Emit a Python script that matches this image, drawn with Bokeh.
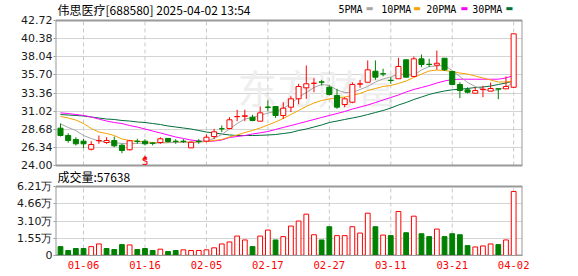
from bokeh.plotting import figure
from bokeh.models import Range1d, FixedTicker, Label, ColumnDataSource
from bokeh.embed import file_html
from bokeh.resources import INLINE
from bokeh.core.properties import value

title_text = "伟思医疗[688580] 2025-04-02 13:54"
volume_label = "成交量:57638"
ma_names = ["5PMA", "10PMA", "20PMA", "30PMA"]
ma_colors = ["#a6a6a6", "#f5a300", "#ff00ff", "#006f3c"]

dates = ["12-31", "01-02", "01-03", "01-06", "01-07", "01-08", "01-09", "01-10", "01-13", "01-14",
         "01-15", "01-16", "01-17", "01-20", "01-21", "01-22", "01-23", "01-24", "01-27", "02-05",
         "02-06", "02-07", "02-10", "02-11", "02-12", "02-13", "02-14", "02-17", "02-18", "02-19",
         "02-20", "02-21", "02-24", "02-25", "02-26", "02-27", "02-28", "03-03", "03-04", "03-05",
         "03-06", "03-07", "03-10", "03-11", "03-12", "03-13", "03-14", "03-17", "03-18", "03-19",
         "03-20", "03-21", "03-24", "03-25", "03-26", "03-27", "03-28", "03-31", "04-01", "04-02"]

opens = [28.82, 27.87, 27.36, 27.14, 26.10, 27.20, 26.97, 27.23, 26.62, 26.03,
         27.14, 27.14, 26.90, 26.97, 27.49, 27.14, 27.14, 26.28, 27.14, 27.14,
         27.74, 28.75, 28.78, 30.30, 30.35, 30.24, 29.72, 31.55, 31.62, 30.45,
         31.53, 32.61, 34.03, 34.60, 34.80, 34.10, 33.04, 31.87, 32.17, 34.50,
         34.75, 36.17, 35.85, 35.00, 35.20, 37.65, 35.50, 37.77, 37.07, 36.95,
         37.85, 36.14, 34.46, 33.77, 33.33, 33.80, 33.60, 33.90, 33.90, 34.10]
highs = [29.42, 28.17, 27.65, 27.45, 27.14, 27.87, 27.65, 27.74, 26.80, 27.30,
         27.45, 27.40, 27.00, 27.65, 27.49, 27.40, 27.40, 27.10, 27.40, 28.00,
         28.73, 29.16, 30.24, 31.19, 31.19, 30.55, 31.62, 32.39, 31.62, 32.17,
         32.95, 34.55, 36.91, 35.27, 35.06, 34.33, 33.90, 32.82, 34.75, 35.06,
         37.56, 37.56, 36.50, 35.40, 37.90, 37.70, 38.07, 38.33, 37.77, 38.85,
         37.85, 36.20, 34.75, 34.10, 34.10, 34.29, 34.70, 33.90, 35.50, 41.00]
lows = [27.74, 26.93, 26.58, 26.23, 25.94, 26.80, 26.80, 26.36, 25.59, 25.94,
        26.80, 26.60, 26.60, 26.80, 26.97, 26.80, 26.90, 26.28, 26.80, 27.00,
        27.40, 28.30, 28.69, 29.72, 29.72, 29.72, 29.72, 31.00, 30.15, 30.00,
        30.90, 31.90, 32.61, 33.46, 34.33, 33.04, 31.32, 31.53, 32.04, 34.03,
        34.75, 35.06, 35.50, 34.55, 35.20, 35.40, 35.40, 36.70, 36.70, 36.36,
        36.20, 34.46, 32.69, 33.30, 33.33, 32.82, 33.60, 32.56, 33.90, 34.00]
closes = [27.87, 27.23, 26.80, 26.80, 26.71, 27.23, 27.23, 26.54, 25.94, 27.19,
          27.10, 26.80, 26.87, 27.45, 27.10, 27.10, 27.10, 27.00, 27.10, 27.65,
          28.35, 28.73, 29.90, 30.33, 30.42, 29.81, 30.80, 31.50, 30.45, 31.40,
          32.61, 34.20, 34.55, 34.63, 34.75, 33.17, 31.53, 32.61, 34.46, 34.55,
          36.35, 35.40, 35.80, 34.97, 36.78, 35.40, 37.77, 37.04, 37.04, 37.20,
          36.36, 34.46, 33.68, 33.46, 33.68, 33.85, 33.94, 33.88, 34.20, 41.00]

volumes = [8000, 4500, 6300, 6300, 8000, 10400, 6300, 5400, 9800, 9500,
           5400, 6300, 4500, 5700, 3600, 4500, 5100, 4500, 4500, 5100,
           6900, 10400, 12200, 17500, 14000, 8000, 17500, 22900, 14000, 17000,
           26500, 31000, 37200, 18700, 14000, 25900, 17900, 17900, 25900, 20200,
           38100, 25900, 18400, 17900, 39600, 20500, 35400, 19600, 17000, 23800,
           17000, 19600, 18700, 8900, 7700, 8600, 10400, 9800, 14000, 57638]
vol_up = [0, 0, 0, 0, 1, 1, 0, 0, 0, 1,
          0, 0, 0, 1, 0, 0, 1, 1, 1, 1,
          1, 1, 1, 1, 1, 0, 1, 1, 0, 1,
          1, 1, 1, 1, 0, 0, 1, 1, 1, 1,
          1, 0, 1, 0, 1, 0, 1, 0, 0, 1,
          0, 0, 0, 0, 1, 1, 1, 0, 1, 1]

ma5 = [29.38, 28.91, 28.52, 27.87, 27.49, 27.16, 27.03, 26.97, 26.84, 26.80,
       26.88, 26.88, 26.88, 26.90, 26.94, 26.97, 27.01, 27.01, 27.01, 27.16,
       27.49, 28.00, 28.71, 29.42, 30.00, 30.20, 30.46, 30.78, 30.97, 31.36,
       32.00, 32.78, 33.42, 34.07, 34.46, 34.33, 33.75, 33.42, 33.42, 33.81,
       34.20, 34.78, 35.17, 35.43, 35.81, 35.75, 35.68, 36.33, 36.78, 36.85,
       36.91, 36.26, 35.49, 34.72, 34.20, 33.81, 33.68, 33.75, 34.13, 34.75]
ma10 = [30.33, 30.13, 29.87, 29.42, 28.78, 28.32, 28.13, 27.87, 27.42, 27.23,
        27.14, 27.06, 26.97, 26.97, 26.97, 26.97, 27.00, 27.01, 27.03, 27.10,
        27.23, 27.36, 27.68, 27.94, 28.26, 28.52, 28.84, 29.23, 29.62, 30.07,
        30.58, 31.10, 31.62, 32.07, 32.39, 32.59, 32.71, 32.84, 33.04, 33.30,
        33.68, 33.94, 34.20, 34.33, 34.59, 34.91, 35.36, 35.81, 36.20, 36.33,
        36.26, 36.14, 35.94, 35.81, 35.55, 35.30, 35.04, 34.78, 34.78, 34.91]
ma20 = [30.80, 30.71, 30.58, 30.46, 30.26, 30.00, 29.74, 29.55, 29.42, 29.16,
        28.97, 28.71, 28.45, 28.20, 27.94, 27.68, 27.49, 27.29, 27.16, 27.10,
        27.16, 27.29, 27.61, 27.74, 27.87, 28.07, 28.22, 28.39, 28.65, 28.91,
        29.16, 29.42, 29.68, 29.94, 30.20, 30.46, 30.71, 30.97, 31.29, 31.55,
        31.81, 32.13, 32.46, 32.78, 33.10, 33.49, 33.81, 34.07, 34.33, 34.65,
        34.91, 35.10, 35.14, 35.14, 35.14, 35.14, 35.14, 35.14, 35.30, 35.62]
ma30 = [30.58, 30.52, 30.46, 30.39, 30.26, 30.13, 30.00, 29.94, 29.81, 29.74,
        29.62, 29.55, 29.42, 29.29, 29.10, 28.97, 28.84, 28.71, 28.52, 28.32,
        28.20, 28.07, 27.94, 27.87, 27.87, 27.87, 27.90, 27.94, 28.00, 28.13,
        28.26, 28.52, 28.71, 28.97, 29.23, 29.55, 29.74, 29.94, 30.13, 30.33,
        30.58, 30.84, 31.10, 31.42, 31.81, 32.13, 32.52, 32.84, 33.17, 33.42,
        33.62, 33.77, 33.85, 33.94, 34.07, 34.13, 34.26, 34.46, 34.65, 34.91]

price_ticks = [24.00, 26.34, 28.68, 31.02, 33.36, 35.70, 38.04, 40.38, 42.72]
vol_ticks = [0, 15500, 31000, 46600, 62100]
vol_tick_labels = ["0", "1.55万", "3.10万", "4.66万", "6.21万"]
date_tick_idx = [3, 11, 19, 27, 35, 43, 51, 59]
signal_idx = [11]
signal_text = ["S"]

RED = "#ff0000"
GREEN = "#008000"
GRID = "#d4d4d4"
VGRID = "#c8c8c8"
FRAME = "#9a9a9a"
n = len(closes)
idx = list(range(n))
X0, X1 = -0.65, 60.15

# ---- layout (pixels from the top of the frame, which spans the canvas height minus x-axis) ----
FRAME_H = 255
P_TOP, P_BOT = 20, 165      # price panel
V_TOP, V_BOT = 186, 255     # volume panel

p_lo, p_hi = price_ticks[0], price_ticks[-1]
v_lo, v_hi = vol_ticks[0], vol_ticks[-1]
ppx = (p_hi - p_lo) / (P_BOT - P_TOP)       # price per pixel
vpx = (v_hi - v_lo) / (V_BOT - V_TOP)       # volume per pixel
y_start = p_lo - (FRAME_H - P_BOT) * ppx
y_end = p_lo + P_BOT * ppx
vr_start = v_lo - (FRAME_H - V_BOT) * vpx
vr_end = v_lo + V_BOT * vpx


def vol_to_price_units(vv):
    # position of a volume value expressed on the main (price) y scale
    px_from_bottom = (vv - vr_start) / vpx
    return y_start + px_from_bottom * ppx


p = figure(width=578, height=276, x_range=Range1d(X0, X1), y_range=Range1d(y_start, y_end),
           output_backend="svg", toolbar_location=None,
           min_border_left=55, min_border_right=56, min_border_top=0, min_border_bottom=21)
p.extra_y_ranges = {"vol": Range1d(vr_start, vr_end)}
p.outline_line_color = None
p.background_fill_color = "white"

# one left axis carrying both the price ticks and the volume ticks
vol_pos = [vol_to_price_units(t) for t in vol_ticks]
all_ticks = price_ticks + vol_pos
overrides = {t: "%.2f" % t for t in price_ticks}
overrides.update({pos: lab for pos, lab in zip(vol_pos, vol_tick_labels)})
ya = p.yaxis[0]
ya.ticker = FixedTicker(ticks=all_ticks)
ya.major_label_overrides = overrides
ya.major_label_text_font = "DejaVu Sans"
ya.major_label_text_font_size = "11px"
ya.major_label_text_color = "#1a1a1a"
ya.axis_line_color = None
ya.major_tick_line_color = FRAME
ya.major_tick_out = 2
ya.major_tick_in = 0
ya.minor_tick_out = 0
ya.minor_tick_in = 0
ya.major_label_standoff = 1

p.ygrid.ticker = FixedTicker(ticks=all_ticks)
p.ygrid.grid_line_color = GRID
p.xgrid.visible = False

xa = p.xaxis[0]
xa.ticker = FixedTicker(ticks=date_tick_idx)
xa.major_label_overrides = {i: dates[i] for i in date_tick_idx}
xa.major_label_text_font = "DejaVu Sans Mono"
xa.major_label_text_font_size = "10.5px"
xa.major_label_text_color = RED
xa.axis_line_color = FRAME
xa.major_tick_out = 0
xa.major_tick_in = 0
xa.minor_tick_out = 0
xa.minor_tick_in = 0
xa.major_label_standoff = 5

# watermark
p.add_layout(Label(x=182, y=FRAME_H - 86, x_units="screen", y_units="screen", text="东方财富",
                   text_font="Noto Sans CJK SC", text_font_size="40px", text_color="#eeeeee",
                   text_baseline="middle", level="underlay"))


def panel_frame(lo, hi, range_name):
    kw = {} if range_name is None else {"y_range_name": range_name}
    p.segment(x0=date_tick_idx, y0=[lo] * len(date_tick_idx), x1=date_tick_idx,
              y1=[hi] * len(date_tick_idx), line_color=VGRID, line_dash="4 3", line_width=1, **kw)
    p.segment(x0=[X0, X0, X0, X1], y0=[hi, lo, lo, lo], x1=[X1, X1, X0, X1], y1=[hi, lo, hi, hi],
              line_color=FRAME, line_width=2, **kw)


panel_frame(p_lo, p_hi, None)
panel_frame(v_lo, v_hi, "vol")

# moving averages
for vals, col in zip([ma30, ma20, ma10, ma5], [ma_colors[3], ma_colors[2], ma_colors[1], ma_colors[0]]):
    p.line(idx, vals, line_color=col, line_width=1)

# candles
up = [i for i in idx if closes[i] >= opens[i]]
dn = [i for i in idx if closes[i] < opens[i]]
up_src = ColumnDataSource(dict(x=up, top=[closes[i] for i in up], bottom=[opens[i] for i in up],
                               high=[highs[i] for i in up], low=[lows[i] for i in up]))
dn_src = ColumnDataSource(dict(x=dn, top=[opens[i] for i in dn], bottom=[closes[i] for i in dn],
                               high=[highs[i] for i in dn], low=[lows[i] for i in dn]))
p.segment(x0="x", y0="low", x1="x", y1="high", source=up_src, line_color=RED, line_width=1)
p.segment(x0="x", y0="low", x1="x", y1="high", source=dn_src, line_color=GREEN, line_width=1)
p.vbar(x="x", width=0.66, top="top", bottom="bottom", source=up_src,
       fill_color="white", line_color=RED, line_width=1)
p.vbar(x="x", width=0.66, top="top", bottom="bottom", source=dn_src,
       fill_color=GREEN, line_color=GREEN, line_width=1)

# sell signal
sig_y = [lows[i] for i in signal_idx]
p.text(x=signal_idx, y=sig_y, text=["▲"] * len(signal_idx), text_color=RED,
       text_font=value("DejaVu Sans"), text_font_size="6px", text_align="center",
       text_baseline="top", y_offset=8)
p.text(x=signal_idx, y=sig_y, text=signal_text, text_color=RED,
       text_font=value("DejaVu Sans Mono"), text_font_size="11px", text_align="center",
       text_baseline="top", y_offset=10)

# volume bars
vu_i = [i for i in idx if vol_up[i]]
vd_i = [i for i in idx if not vol_up[i]]
vu = ColumnDataSource(dict(x=vu_i, top=[volumes[i] for i in vu_i]))
vd = ColumnDataSource(dict(x=vd_i, top=[volumes[i] for i in vd_i]))
p.vbar(x="x", top="top", bottom=v_lo, width=0.62, source=vu, y_range_name="vol",
       fill_color="white", line_color=RED, line_width=1)
p.vbar(x="x", top="top", bottom=v_lo, width=0.62, source=vd, y_range_name="vol",
       fill_color=GREEN, line_color=GREEN, line_width=1)

# header texts
p.add_layout(Label(x=2, y=FRAME_H - 8.5, x_units="screen", y_units="screen", text=title_text,
                   text_font="Noto Sans CJK SC", text_font_size="12px", text_color="#000000",
                   text_baseline="middle"))
leg_text_x = [283, 325.7, 370.7, 416.7]
leg_box_x = [310.3, 357.7, 405, 450]
for name, col, tx, bx in zip(ma_names, ma_colors, leg_text_x, leg_box_x):
    p.add_layout(Label(x=tx, y=FRAME_H - 8.5, x_units="screen", y_units="screen", text=name,
                       text_font="DejaVu Sans Mono", text_font_size="10px", text_color="#000000",
                       text_baseline="middle"))
    p.add_layout(Label(x=bx, y=FRAME_H - 8, x_units="screen", y_units="screen", text="▬",
                       text_font="DejaVu Sans", text_font_size="8px", text_color=col,
                       text_baseline="middle"))

p.add_layout(Label(x=2, y=FRAME_H - 176, x_units="screen", y_units="screen", text=volume_label,
                   text_font="Noto Sans CJK SC", text_font_size="12px", text_color="#000000",
                   text_baseline="middle"))

open("out.html", "w").write(file_html(p, INLINE))
